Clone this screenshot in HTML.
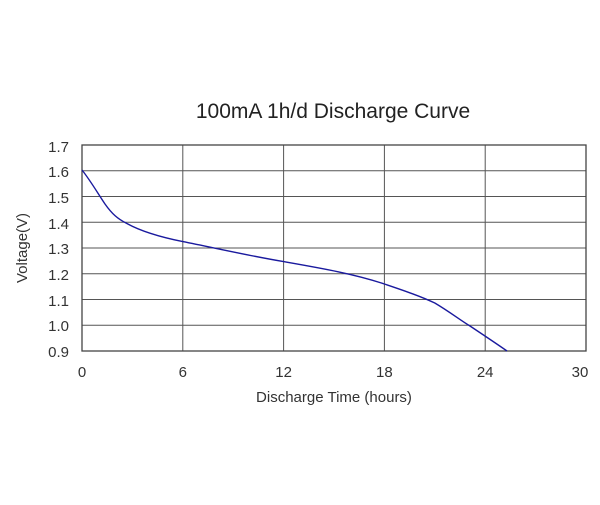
<!DOCTYPE html>
<html><head><meta charset="utf-8"><style>
html,body{margin:0;padding:0;background:#fff;}
</style></head><body>
<svg width="600" height="500" viewBox="0 0 600 500" xmlns="http://www.w3.org/2000/svg" font-family="Liberation Sans, sans-serif">
<rect width="600" height="500" fill="#fff"/>
<text x="333" y="118" font-size="21" text-anchor="middle" fill="#222">100mA 1h/d Discharge Curve</text>
<g stroke="#555" stroke-width="1">
<line x1="82" y1="170.75" x2="586" y2="170.75"/>
<line x1="82" y1="196.5" x2="586" y2="196.5"/>
<line x1="82" y1="222.25" x2="586" y2="222.25"/>
<line x1="82" y1="248" x2="586" y2="248"/>
<line x1="82" y1="273.75" x2="586" y2="273.75"/>
<line x1="82" y1="299.5" x2="586" y2="299.5"/>
<line x1="82" y1="325.25" x2="586" y2="325.25"/>
<line x1="182.8" y1="145" x2="182.8" y2="351"/>
<line x1="283.6" y1="145" x2="283.6" y2="351"/>
<line x1="384.4" y1="145" x2="384.4" y2="351"/>
<line x1="485.2" y1="145" x2="485.2" y2="351"/>
</g>
<rect x="82" y="145" width="504" height="206" fill="none" stroke="#444" stroke-width="1.3"/>
<path d="M82,170 C90,180 97,192 105,204 C112,214 118,219 126,223 C140,231 160,237 182.8,241.6 C215,248 250,256 283.6,261.6 C320,268 355,274 384.4,284 C405,291 420,296 434.8,303 C450,312 460,320 470,326 C485,336 497,344 507,351" fill="none" stroke="#1a1a9e" stroke-width="1.4"/>
<g font-size="15" fill="#333" text-anchor="end">
<text x="69" y="152">1.7</text>
<text x="69" y="177">1.6</text>
<text x="69" y="203">1.5</text>
<text x="69" y="229">1.4</text>
<text x="69" y="254">1.3</text>
<text x="69" y="280">1.2</text>
<text x="69" y="306">1.1</text>
<text x="69" y="331">1.0</text>
<text x="69" y="357">0.9</text>
</g>
<g font-size="15" fill="#333" text-anchor="middle">
<text x="82" y="377">0</text>
<text x="182.8" y="377">6</text>
<text x="283.6" y="377">12</text>
<text x="384.4" y="377">18</text>
<text x="485.2" y="377">24</text>
<text x="580" y="377">30</text>
</g>
<text x="334" y="402" font-size="15" fill="#333" text-anchor="middle">Discharge Time (hours)</text>
<text transform="translate(27,248) rotate(-90)" font-size="15" fill="#333" text-anchor="middle">Voltage(V)</text>
</svg>
</body></html>
